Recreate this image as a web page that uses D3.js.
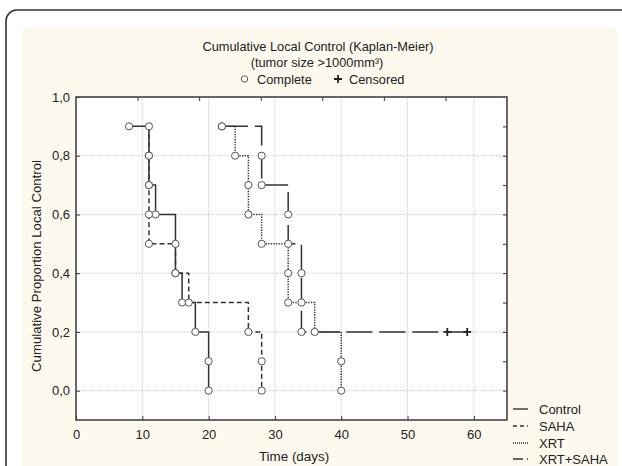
<!DOCTYPE html>
<html><head><meta charset="utf-8">
<script src="https://cdn.jsdelivr.net/npm/d3@7"></script>
<style>body{margin:0;background:#fff;}svg{display:block;font-family:"Liberation Sans",Arial,sans-serif;}</style>
</head><body>
<svg id="c" width="622" height="466"></svg>
<script>
// ---- data ----
const xTicks = [0,10,20,30,40,50,60];
const yTicks = [0,0.2,0.4,0.6,0.8,1.0];
const yTickLabels = ["0,0","0,2","0,4","0,6","0,8","1,0"];
const seriesNames = ["Control","SAHA","XRT","XRT+SAHA"];
const controlTimes = [8,11,11,12,15,15,16,18,20,20];
const controlSurv  = [0.9,0.8,0.7,0.6,0.5,0.4,0.3,0.2,0.1,0.0];
const sahaTimes = [11,11,11,11,11,15,17,26,28,28];
const sahaSurv  = [0.9,0.8,0.7,0.6,0.5,0.4,0.3,0.2,0.1,0.0];
const xrtTimes = [22,24,26,26,28,32,32,36,40,40];
const xrtSurv  = [0.9,0.8,0.7,0.6,0.5,0.4,0.3,0.2,0.1,0.0];
const comboTimes = [22,28,28,32,32,34,34,34];
const comboSurv  = [0.9,0.8,0.7,0.6,0.5,0.4,0.3,0.2];
const comboCensoredTimes = [56,59];
const comboCensoredSurv = [0.2,0.2];

const svg = d3.select("#c");
// page frame
svg.append("rect").attr("x",6).attr("y",10).attr("width",640).attr("height",480).attr("rx",11)
  .attr("fill","#fff").attr("stroke","#333").attr("stroke-width",1.6);
svg.append("rect").attr("x",22).attr("y",28).attr("width",595).attr("height",450).attr("fill","#fdf9ee");

const L=76,R=507,T=97,B=420;
const x = d3.scaleLinear().domain([0,65]).range([L,R]);
const y = d3.scaleLinear().domain([-0.1,1.0]).range([B,T]);
const xTop = d3.scaleLinear().domain([0,7]).range([L,R]);

svg.append("rect").attr("x",L).attr("y",T).attr("width",R-L).attr("height",B-T).attr("fill","#fff");

// grid
const g = svg.append("g");
g.selectAll(".vg").data(xTicks.filter(d=>d>0)).enter().append("line")
  .attr("x1",d=>x(d)).attr("x2",d=>x(d)).attr("y1",T).attr("y2",B)
  .attr("stroke","#c8c8c8").attr("stroke-width",1).attr("stroke-dasharray","1,1");
g.selectAll(".hg").data(yTicks.filter(d=>d<1)).enter().append("line")
  .attr("x1",L).attr("x2",R).attr("y1",d=>y(d)).attr("y2",d=>y(d))
  .attr("stroke","#c8c8c8").attr("stroke-width",1).attr("stroke-dasharray","1,1");

// axes
const axB = d3.axisBottom(x).tickValues(xTicks).tickSizeInner(-4).tickSizeOuter(0).tickPadding(10).tickFormat(d3.format("d"));
const axL = d3.axisLeft(y).tickValues(yTicks).tickSizeInner(-4).tickSizeOuter(0).tickPadding(6).tickFormat((d,i)=>yTickLabels[i]);
const axT = d3.axisTop(xTop).tickValues([1,2,3,4,5,6]).tickSizeInner(-4).tickSizeOuter(0).tickFormat("");
const axR = d3.axisRight(y).tickValues([0,0.1,0.2,0.3,0.4,0.5,0.6,0.7,0.8,0.9]).tickSizeInner(-4).tickSizeOuter(0).tickFormat("");
function styleAx(sel){
  sel.select(".domain").remove();
  sel.selectAll("line").attr("stroke","#333").attr("stroke-width",1);
  sel.selectAll("text").attr("fill","#222").style("font-size","13px").style("font-family","'Liberation Sans',Arial,sans-serif");
}
svg.append("g").attr("transform",`translate(0,${B})`).call(axB).call(styleAx);
svg.append("g").attr("transform",`translate(${L},0)`).call(axL).call(styleAx);
svg.append("g").attr("transform",`translate(0,${T})`).call(axT).call(styleAx);
svg.append("g").attr("transform",`translate(${R},0)`).call(axR).call(styleAx);
svg.append("rect").attr("x",L).attr("y",T).attr("width",R-L).attr("height",B-T)
  .attr("fill","none").attr("stroke","#444").attr("stroke-width",1.6);

// step paths
function stepPath(ts, ss, endT){
  let d = `M${x(ts[0])},${y(ss[0])}`;
  for(let i=1;i<ts.length;i++){ d += `H${x(ts[i])}V${y(ss[i])}`; }
  if(endT!==undefined) d += `H${x(endT)}`;
  return d;
}
const lc="#333";
const series = [
  {t:controlTimes,s:controlSurv,dash:null},
  {t:sahaTimes,s:sahaSurv,dash:"5,3"},
  {t:xrtTimes,s:xrtSurv,dash:"1.3,1.3"},
  {t:comboTimes,s:comboSurv,dash:"26,7",end:d3.max(comboCensoredTimes)}
];
series.forEach(se=>{
  svg.append("path").attr("d",stepPath(se.t,se.s,se.end)).attr("fill","none")
    .attr("stroke",lc).attr("stroke-width",1.5).attr("stroke-dasharray",se.dash);
});
// censored
comboCensoredTimes.forEach((t,i)=>{
  const cx=x(t), cy=y(comboCensoredSurv[i]);
  svg.append("path").attr("d",`M${cx-4},${cy}H${cx+4}M${cx},${cy-4}V${cy+4}`).attr("stroke","#222").attr("stroke-width",1.8);
});
// circles
series.forEach(se=>{
  svg.append("g").selectAll("circle").data(se.t.map((t,i)=>[t,se.s[i]])).enter().append("circle")
    .attr("cx",d=>x(d[0])).attr("cy",d=>y(d[1])).attr("r",3.6)
    .attr("fill","#fff").attr("stroke","#555").attr("stroke-width",1);
});

// titles
const tf = "'Liberation Sans',Arial,sans-serif";
const tfs = "12.8px";
svg.append("text").attr("x",318).attr("y",51).attr("text-anchor","middle").style("font-size",tfs).style("font-family",tf).attr("fill","#222").text("Cumulative Local Control (Kaplan-Meier)");
svg.append("text").attr("x",317).attr("y",67).attr("text-anchor","middle").style("font-size",tfs).style("font-family",tf).attr("fill","#222").text("(tumor size >1000mm³)");
svg.append("circle").attr("cx",244.5).attr("cy",79).attr("r",3.2).attr("fill","#fff").attr("stroke","#555");
svg.append("text").attr("x",257).attr("y",83.5).style("font-size",tfs).style("font-family",tf).attr("fill","#222").text("Complete");
svg.append("path").attr("d","M334,79H342M338,75V83").attr("stroke","#222").attr("stroke-width",1.8);
svg.append("text").attr("x",349).attr("y",83.5).style("font-size",tfs).style("font-family",tf).attr("fill","#222").text("Censored");

// axis titles
svg.append("text").attr("x",294).attr("y",461).attr("text-anchor","middle").style("font-size","13.4px").style("font-family",tf).attr("fill","#222").text("Time (days)");
svg.append("text").attr("transform","translate(41,266) rotate(-90)").attr("text-anchor","middle").style("font-size","13.2px").style("font-family",tf).attr("fill","#222").text("Cumulative Proportion Local Control");

// legend
const legDash=[null,"4,3","1,1","10,4,1.5,10"];
const legY=[409,426,443,459];
seriesNames.forEach((n,i)=>{
  svg.append("line").attr("x1",513).attr("x2",528).attr("y1",legY[i]).attr("y2",legY[i])
    .attr("stroke",lc).attr("stroke-width",1.4).attr("stroke-dasharray",legDash[i]);
  svg.append("text").attr("x",539).attr("y",legY[i]+4.5).style("font-size","13px").style("font-family",tf).attr("fill","#222").text(n);
});
</script>
</body></html>
